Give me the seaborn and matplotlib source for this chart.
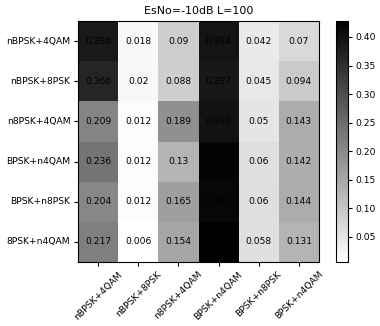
import numpy as np
import pandas as pd
import matplotlib
matplotlib.use('Agg')
import matplotlib.pyplot as plt
import seaborn as sns

labels = ['nBPSK+4QAM', 'nBPSK+8PSK', 'n8PSK+4QAM', 'BPSK+n4QAM', 'BPSK+n8PSK', '8PSK+n4QAM']

row_nbpsk_4qam = [0.386, 0.018, 0.09, 0.394, 0.042, 0.07]
row_nbpsk_8psk = [0.366, 0.02, 0.088, 0.387, 0.045, 0.094]
row_n8psk_4qam = [0.209, 0.012, 0.189, 0.397, 0.05, 0.143]
row_bpsk_n4qam = [0.236, 0.012, 0.13, 0.42, 0.06, 0.142]
row_bpsk_n8psk = [0.204, 0.012, 0.165, 0.415, 0.06, 0.144]
row_8psk_n4qam = [0.217, 0.006, 0.154, 0.428, 0.058, 0.131]

title = 'EsNo=-10dB L=100'

mat = pd.DataFrame([row_nbpsk_4qam, row_nbpsk_8psk, row_n8psk_4qam,
                    row_bpsk_n4qam, row_bpsk_n8psk, row_8psk_n4qam],
                   index=labels, columns=labels)

plt.rcParams['font.family'] = 'DejaVu Sans'
plt.rcParams['font.size'] = 6.6

fig = plt.figure(figsize=(3.8, 3.26), dpi=100)
ax = fig.add_axes([78 / 380, 64 / 326, 241 / 380, 241 / 326])
cax = fig.add_axes([336 / 380, 64 / 326, 12 / 380, 241 / 326])

sns.heatmap(mat, ax=ax, cbar_ax=cax, cmap='gray_r', annot=True, fmt='g',
            annot_kws={'color': 'black', 'fontsize': 6.6}, square=False)

# put the frame back like plain imshow
for sp in ax.spines.values():
    sp.set_visible(True)
    sp.set_linewidth(0.8)

ax.tick_params(axis='both', which='major', length=3, width=0.8, pad=2.5, labelsize=6.6)
ax.set_yticklabels(labels, rotation=0)
ax.set_xticklabels(labels, rotation=45, ha='center')
ax.set_xlabel('')
ax.set_ylabel('')
ax.set_title(title, fontsize=7.9, pad=5)

cax.tick_params(labelsize=6.6, length=3, width=0.8, pad=2.5)
cbar = ax.collections[0].colorbar
cbar.outline.set_visible(True)
cbar.outline.set_linewidth(0.8)

plt.savefig('out.png', dpi=100)
